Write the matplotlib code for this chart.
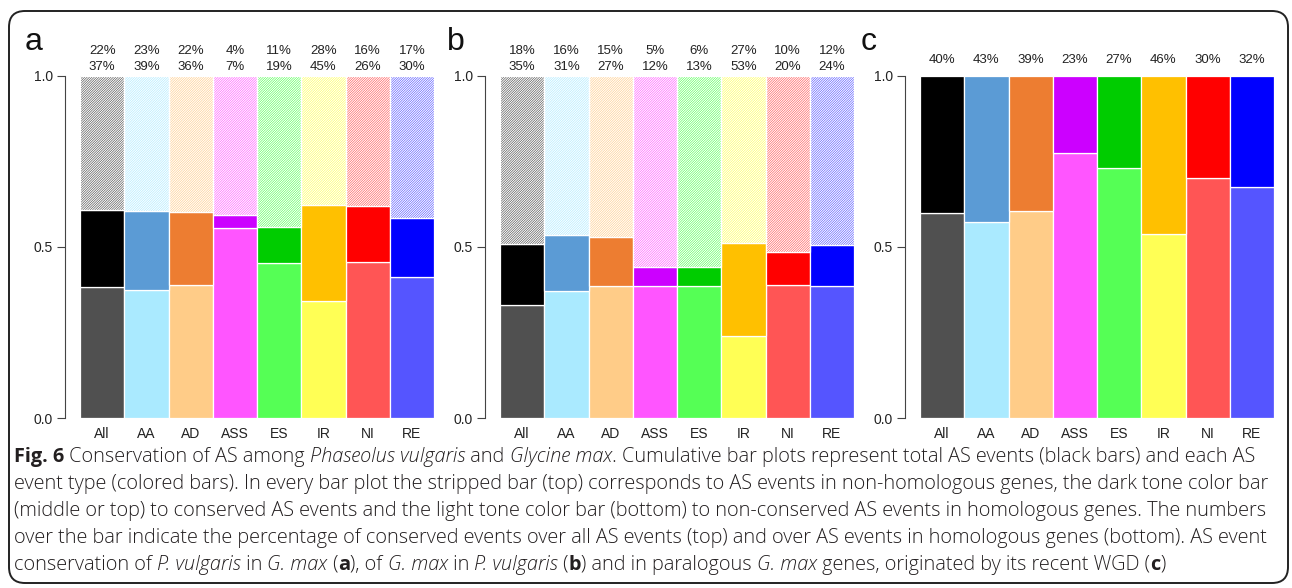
import matplotlib.pyplot as plt
from matplotlib.patches import FancyBboxPatch
from matplotlib.transforms import IdentityTransform

W, H = 1292, 588

categories = ['All', 'AA', 'AD', 'ASS', 'ES', 'IR', 'NI', 'RE']

light_colors = ['#505050', '#AAEAFF', '#FFCC88', '#FF55FF', '#55FF55', '#FFFF55', '#FF5555', '#5555FF']
dark_colors = ['#000000', '#5B9BD5', '#ED7D31', '#CC00FF', '#00CC00', '#FFC000', '#FF0000', '#0000FF']

# panel a: P. vulgaris in G. max
a_nonconserved = [0.384, 0.375, 0.389, 0.556, 0.454, 0.343, 0.457, 0.413]
a_homologous = [0.608, 0.606, 0.601, 0.594, 0.559, 0.622, 0.620, 0.585]
a_pct_all = ['22%', '23%', '22%', '4%', '11%', '28%', '16%', '17%']
a_pct_hom = ['37%', '39%', '36%', '7%', '19%', '45%', '26%', '30%']

# panel b: G. max in P. vulgaris
b_nonconserved = [0.331, 0.373, 0.387, 0.386, 0.386, 0.239, 0.388, 0.386]
b_homologous = [0.510, 0.534, 0.530, 0.441, 0.442, 0.511, 0.485, 0.507]
b_pct_all = ['18%', '16%', '15%', '5%', '6%', '27%', '10%', '12%']
b_pct_hom = ['35%', '31%', '27%', '12%', '13%', '53%', '20%', '24%']

# panel c: paralogous G. max genes
c_nonconserved = [0.598, 0.574, 0.606, 0.773, 0.730, 0.537, 0.700, 0.676]
c_pct = ['40%', '43%', '39%', '23%', '27%', '46%', '30%', '32%']

plt.rcParams['font.family'] = ['Liberation Sans', 'DejaVu Sans']
plt.rcParams['hatch.linewidth'] = 0.45

fig = plt.figure(figsize=(W / 100, H / 100), dpi=100)


def make_axes(left_px):
    top, bottom = 75.7, 418.3
    ax = fig.add_axes([left_px / W, (H - bottom) / H, 354 / W, (bottom - top) / H])
    ax.set_xlim(-0.5, 7.5)
    ax.set_ylim(0, 1)
    for s in ['top', 'right', 'bottom']:
        ax.spines[s].set_visible(False)
    ax.spines['left'].set_position(('outward', 10.8))
    ax.spines['left'].set_bounds(0, 1)
    ax.spines['left'].set_color('#444444')
    ax.set_yticks([0, 0.5, 1.0])
    ax.set_yticklabels(['0.0', '0.5', '1.0'])
    ax.tick_params(axis='y', length=5.8, color='#444444', labelsize=10, pad=3, labelcolor='#222222')
    ax.set_xticks(range(len(categories)))
    ax.set_xticklabels(categories)
    ax.tick_params(axis='x', length=0, labelsize=10, pad=6, labelcolor='#222222')
    return ax


def draw_stack(ax, nonconserved, homologous=None):
    x = range(len(categories))
    ax.bar(x, nonconserved, width=1, color=light_colors, edgecolor='white', linewidth=0.9)
    if homologous is None:
        top = [1 - v for v in nonconserved]
        ax.bar(x, top, bottom=nonconserved, width=1, color=dark_colors, edgecolor='white', linewidth=0.9)
        return
    mid = [h - n for h, n in zip(homologous, nonconserved)]
    ax.bar(x, mid, bottom=nonconserved, width=1, color=dark_colors, edgecolor='white', linewidth=0.9)
    rest = [1 - h for h in homologous]
    for i in x:
        ax.bar(i, rest[i], bottom=homologous[i], width=1, color='white',
               edgecolor=light_colors[i], linewidth=0, hatch='/' * 14)
    ax.bar(x, rest, bottom=homologous, width=1, fill=False, edgecolor='white', linewidth=0.9)


def pct_labels(ax, labels, offset):
    for i, s in enumerate(labels):
        ax.annotate(s, xy=(i, 1), xytext=(0, offset), textcoords='offset points',
                    ha='center', va='center', fontsize=9.5, color='#222222', annotation_clip=False)


ax_a = make_axes(80)
draw_stack(ax_a, a_nonconserved, a_homologous)
pct_labels(ax_a, a_pct_all, 17.5)
pct_labels(ax_a, a_pct_hom, 6.5)

ax_b = make_axes(500)
draw_stack(ax_b, b_nonconserved, b_homologous)
pct_labels(ax_b, b_pct_all, 17.5)
pct_labels(ax_b, b_pct_hom, 6.5)

ax_c = make_axes(920)
draw_stack(ax_c, c_nonconserved)
pct_labels(ax_c, c_pct, 11.3)

for letter, xpx in [('a', 25), ('b', 447), ('c', 861)]:
    fig.text(xpx, H - 50, letter, fontsize=23, ha='left', va='baseline',
             transform=IdentityTransform(), color='#111111')

# rounded frame
frame = FancyBboxPatch((9, 5), 1279, H - 16, boxstyle='round,pad=0,rounding_size=16',
                       transform=IdentityTransform(), fill=False, edgecolor='#222222',
                       linewidth=1.4, figure=fig)
fig.patches.append(frame)

# caption, drawn piece by piece to mix bold / italic
R, B, I = (300, 'normal'), ('bold', 'normal'), (300, 'italic')
caption = [
    [('Fig. 6', B), (' Conservation of AS among ', R), ('Phaseolus vulgaris', I), (' and ', R),
     ('Glycine max', I), ('. Cumulative bar plots represent total AS events (black bars) and each AS', R)],
    [('event type (colored bars). In every bar plot the stripped bar (top) corresponds to AS events in non-homologous genes, the dark tone color bar', R)],
    [('(middle or top) to conserved AS events and the light tone color bar (bottom) to non-conserved AS events in homologous genes. The numbers', R)],
    [('over the bar indicate the percentage of conserved events over all AS events (top) and over AS events in homologous genes (bottom). AS event', R)],
    [('conservation of ', R), ('P. vulgaris', I), (' in ', R), ('G. max', I), (' (', R), ('a', B),
     ('), of ', R), ('G. max', I), (' in ', R), ('P. vulgaris', I), (' (', R), ('b', B),
     (') and in paralogous ', R), ('G. max', I), (' genes, originated by its recent WGD (', R), ('c', B), (')', R)],
]
cap_font = ['Open Sans', 'DejaVu Sans']
renderer = fig.canvas.get_renderer()


def write_line(parts, x, y, size):
    texts = []
    for s, (weight, style) in parts:
        t = fig.text(x, y, s, fontsize=size, fontweight=weight, fontstyle=style, family=cap_font,
                     ha='left', va='center', transform=IdentityTransform(), color='#231f20')
        x += t.get_window_extent(renderer).width
        texts.append(t)
    return texts, x


# fit the first line to the reference width
probe, end = write_line(caption[0], 14, -100, 12)
size = 12 * (1253 - 14) / (end - 14)
for t in probe:
    t.remove()

for k, parts in enumerate(caption):
    write_line(parts, 14, H - (457 + 27 * k), size)

fig.savefig('out.png', dpi=100)
